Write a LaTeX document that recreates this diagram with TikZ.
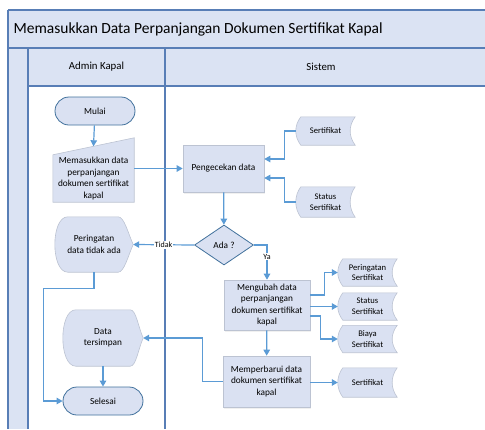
\documentclass[tikz,border=0pt]{standalone}
\usepackage{fontspec}
\setmainfont{Carlito}
\usetikzlibrary{arrows.meta,shapes.geometric,shapes.misc,backgrounds,calc,shadows}

\definecolor{boxfill}{RGB}{218,225,242}
\definecolor{lanefill}{RGB}{219,227,243}
\definecolor{laneblue}{RGB}{88,126,182}
\definecolor{flowblue}{RGB}{91,155,213}
\definecolor{termblue}{RGB}{65,113,156}
\definecolor{boxgray}{RGB}{188,195,210}

\newcommand{\nodefont}{\fontsize{9.3}{11.4}\selectfont}
\newcommand{\smallfont}{\fontsize{8.6}{10.8}\selectfont}

% outline of a stored data symbol round node #1
\newcommand{\datastore}[1]{%
  \path[shape line] ([xshift=5pt]#1.north west) -- (#1.north east)
    .. controls +(-6.7,9) and +(-6.7,-9) .. (#1.south east)
    -- ([xshift=5pt]#1.south west)
    .. controls +(-6.7,-9) and +(-6.7,9) .. ([xshift=5pt]#1.north west) -- cycle;}
% outline of a display symbol round node #1, #2 = point depth
\newcommand{\displayshape}[2]{%
  \path[shape line] ([xshift=13pt]#1.north west) -- ([xshift=-#2pt]#1.north east)
    .. controls +(6,0) and +(-5,-11) .. (#1.east)
    .. controls +(-5,11) and +(6,0) .. ([xshift=-#2pt]#1.south east)
    -- ([xshift=13pt]#1.south west)
    .. controls +(-17.3,0) and +(-17.3,0) .. ([xshift=13pt]#1.north west) -- cycle;}

\begin{document}
\begin{tikzpicture}[x=1pt,y=-1pt,
    lane line/.style={draw=laneblue, line width=1.6pt},
    flow/.style={draw=flowblue, line width=1.2pt, -{Triangle[length=6pt,width=6.5pt]}},
    terminal/.style={rounded rectangle, draw=termblue, line width=0.8pt, fill=boxfill,
        minimum width=80pt, minimum height=28pt, inner sep=0pt, font=\nodefont},
    process/.style={rectangle, draw=boxgray, line width=0.6pt, fill=boxfill, align=center,
        inner sep=0pt, font=\nodefont,
        drop shadow={opacity=0.12, shadow xshift=1pt, shadow yshift=-1.5pt}},
    decision/.style={diamond, draw=termblue, line width=0.8pt, fill=boxfill, aspect=1.47,
        minimum width=59pt, minimum height=40pt, inner sep=0pt, font=\nodefont},
    blank/.style={rectangle, inner sep=0pt, align=center, font=\nodefont},
    store/.style={blank, minimum width=59pt, minimum height=27pt, font=\smallfont},
    shape line/.style={draw=boxgray, line width=0.6pt, fill=boxfill},
    flow label/.style={fill=white, inner sep=1pt, font=\fontsize{8}{9}\selectfont},
]
    \useasboundingbox (0,0) rectangle (485,429);

    % swimlanes
    \fill[lanefill] (8,10) rectangle (485,86);
    \fill[lanefill] (8,86) rectangle (28,429);
    \draw[lane line] (8,10) -- (485,10);
    \draw[lane line] (8,48) -- (485,48);
    \draw[lane line] (28,86) -- (485,86);
    \draw[lane line] (8,10) -- (8,429);
    \draw[lane line] (28,48) -- (28,429);
    \draw[lane line] (165,48) -- (165,429);
    \node[anchor=west, font=\fontsize{15.5}{18}\selectfont] (title) at (10,29)
        {Memasukkan Data Perpanjangan Dokumen Sertifikat Kapal};
    \node[font=\fontsize{10.8}{13}\selectfont] (admin) at (96.5,67) {Admin Kapal};
    \node[font=\fontsize{10.8}{13}\selectfont] (sistem) at (321,67) {Sistem};

    % Admin Kapal
    \node[terminal] (mulai) at (95,111) {Mulai};
    \node[blank, minimum width=81pt, minimum height=47pt] (input) at (93.5,178.5)
        {Memasukkan data\\perpanjangan\\dokumen sertifikat\\kapal};
    \coordinate (input top) at ($(input.north west)!0.5!([yshift=17pt]input.north east)$);
    \node[blank, minimum width=78pt, minimum height=55pt] (warn) at (94,244.5)
        {Peringatan\\data tidak ada};
    \node[blank, minimum width=80pt, minimum height=56pt] (simpan) at (103,338)
        {Data\\tersimpan};
    \node[terminal] (selesai) at (103,401) {Selesai};

    % Sistem
    \node[process, minimum width=81pt, minimum height=47pt] (cek) at (223.5,168.5)
        {Pengecekan data};
    \node[store, minimum height=28pt] (sert1) at (325.5,131) {Sertifikat};
    \node[store, minimum height=30pt] (status1) at (325.5,202) {Status\\Sertifikat};
    \node[decision] (ada) at (224,245) {Ada ?};
    \node[process, minimum width=86pt, minimum height=50pt] (ubah) at (267,305)
        {Mengubah data\\perpanjangan\\dokumen sertifikat\\kapal};
    \node[store] (peringatan) at (367.5,272.5) {Peringatan\\Sertifikat};
    \node[store] (status2) at (367.5,306.5) {Status\\Sertifikat};
    \node[store] (biaya) at (367.5,339) {Biaya\\Sertifikat};
    \node[process, minimum width=87pt, minimum height=51pt] (perbarui) at (266.5,381.5)
        {Memperbarui data\\dokumen sertifikat\\kapal};
    \node[store, minimum height=29pt] (sert2) at (367.5,382.5) {Sertifikat};

    \begin{scope}[on background layer]
        \path[shape line] (input.south west) -- (input.north west)
            -- ([yshift=17pt]input.north east) -- (input.south east) -- cycle;
        \displayshape{warn}{15}
        \displayshape{simpan}{13}
        \datastore{sert1}
        \datastore{status1}
        \datastore{peringatan}
        \datastore{status2}
        \datastore{biaya}
        \datastore{sert2}
    \end{scope}

    % connectors
    \draw[flow] (mulai) -- (input top);
    \draw[flow] (input.east |- cek.west) -- (cek.west);
    \draw[flow] (sert1.west) -- ++(-11,0) |- ([yshift=9.5pt]cek.east);
    \draw[flow] (status1.west) -- ++(-11,0) |- ([yshift=-9.5pt]cek.east);
    \draw[flow] (cek) -- (ada);
    \draw[flow] (ada.west) -- node[flow label, pos=0.5] {Tidak} (warn.east);
    \draw[flow] (ada.east) -| node[flow label, pos=0.67] {Ya} (ubah.north);
    \draw[flow] (warn.south) -- ++(0,16) -| ($(selesai.west)+(-19,0)$) -- (selesai.west);
    \draw[flow] ([yshift=10pt]ubah.east) -- ++(14,0) |- (peringatan.west);
    \draw[flow] (ubah.east |- status2.west) -- (status2.west);
    \draw[flow] ([yshift=-11pt]ubah.east) -- ++(10,0) |- (biaya.west);
    \draw[flow] (ubah) -- (perbarui);
    \draw[flow] (perbarui.east |- sert2.west) -- (sert2.west);
    \draw[flow] (perbarui.west) -- ++(-20,0) |- (simpan.east);
    \draw[flow] (simpan) -- (selesai);

\end{tikzpicture}
\end{document}
